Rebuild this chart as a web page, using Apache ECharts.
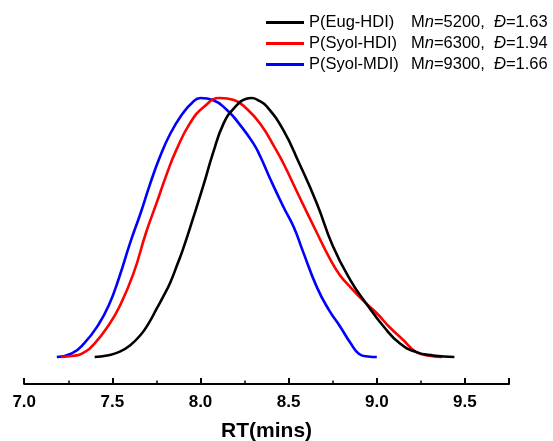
<!DOCTYPE html>
<html>
<head>
<meta charset="utf-8">
<script src="https://cdn.jsdelivr.net/npm/echarts@6/dist/echarts.min.js"></script>
<style>
html,body{margin:0;padding:0;background:#fff;}
#c{width:553px;height:441px;}
</style>
</head>
<body>
<div id="c"></div>
<script>
// Series names and legend annotations
var seriesNames = ['P(Eug-HDI)', 'P(Syol-HDI)', 'P(Syol-MDI)'];
var mnValues = ['5200', '6300', '9300'];
var dispersity = ['1.63', '1.94', '1.66'];
var seriesColors = ['#000000', '#ff0000', '#0000ff'];

// Retention time (mins) and normalized intensity
var eugX = [7.40, 7.47, 7.54, 7.60, 7.66, 7.71, 7.75, 7.79, 7.83, 7.87, 7.90, 7.96, 8.02, 8.07, 8.13, 8.19, 8.26, 8.29, 8.33, 8.375, 8.47, 8.56, 8.66, 8.75, 8.85, 8.94, 9.04, 9.13, 9.22, 9.32, 9.44];
var eugY = [0, 0.006, 0.02, 0.045, 0.085, 0.135, 0.185, 0.235, 0.29, 0.36, 0.415, 0.54, 0.67, 0.785, 0.90, 0.96, 0.997, 1.0, 0.99, 0.968, 0.876, 0.748, 0.593, 0.43, 0.297, 0.207, 0.117, 0.053, 0.02, 0.006, 0];

var syolHX = [7.21, 7.28, 7.33, 7.40, 7.48, 7.54, 7.62, 7.69, 7.75, 7.81, 7.86, 7.94, 8.02, 8.11, 8.19, 8.26, 8.34, 8.42, 8.47, 8.56, 8.66, 8.73, 8.79, 8.85, 8.92, 9.00, 9.07, 9.15, 9.22, 9.30, 9.37];
var syolHY = [0, 0.005, 0.014, 0.053, 0.124, 0.194, 0.323, 0.478, 0.593, 0.709, 0.795, 0.902, 0.966, 1.0, 0.992, 0.96, 0.90, 0.81, 0.748, 0.62, 0.48, 0.385, 0.317, 0.27, 0.22, 0.169, 0.117, 0.066, 0.021, 0.005, 0];

var syolMX = [7.185, 7.27, 7.34, 7.42, 7.48, 7.54, 7.60, 7.66, 7.71, 7.77, 7.83, 7.90, 7.95, 8.00, 8.07, 8.15, 8.22, 8.30, 8.34, 8.39, 8.47, 8.53, 8.58, 8.66, 8.73, 8.79, 8.85, 8.90, 8.95, 9.00];
var syolMY = [0, 0.014, 0.053, 0.124, 0.20, 0.31, 0.439, 0.555, 0.66, 0.773, 0.864, 0.941, 0.98, 1.0, 0.992, 0.954, 0.90, 0.825, 0.773, 0.696, 0.58, 0.50, 0.41, 0.27, 0.18, 0.12, 0.055, 0.012, 0.002, 0];

var xTickMin = 7.0, xTickMax = 9.75, xTickStep = 0.5;
var xAxisTitle = 'RT(mins)';

function pairs(xs, ys) { return xs.map(function (x, i) { return [x, ys[i]]; }); }
var allX = [eugX, syolHX, syolMX];
var allY = [eugY, syolHY, syolMY];

var chart = echarts.init(document.getElementById('c'), null, {renderer: 'canvas'});
var font = 'Liberation Sans, Arial, sans-serif';

chart.setOption({
  animation: false,
  backgroundColor: '#ffffff',
  grid: {left: 24.2, right: 44, top: 98, bottom: 57, containLabel: false, outerBoundsMode: 'none'},
  legend: {
    orient: 'vertical',
    left: 266,
    top: 14,
    padding: 0,
    itemWidth: 38,
    itemHeight: 3,
    itemGap: 4,
    icon: 'rect',
    selectedMode: false,
    data: seriesNames,
    formatter: function (name) {
      var i = seriesNames.indexOf(name);
      return '{a|' + name + '}{b|M}{i|n}{b|=' + mnValues[i] + ',  }{i|Đ}{b|=' + dispersity[i] + '}';
    },
    textStyle: {
      color: '#000',
      fontFamily: font,
      fontSize: 16.5,
      rich: {
        a: {width: 102, fontSize: 16.5, fontFamily: font, color: '#000', lineHeight: 19},
        b: {fontSize: 16.5, fontFamily: font, color: '#000', lineHeight: 19},
        i: {fontSize: 16.5, fontFamily: font, fontStyle: 'italic', color: '#000', lineHeight: 19}
      }
    }
  },
  xAxis: {
    type: 'value',
    min: xTickMin,
    max: xTickMax,
    interval: xTickStep,
    name: xAxisTitle,
    nameLocation: 'middle',
    nameGap: 37,
    nameTextStyle: {fontFamily: font, fontSize: 21, fontWeight: 'bold', color: '#000'},
    axisLine: {show: true, onZero: false, lineStyle: {color: '#000', width: 2}},
    axisTick: {show: true, inside: true, length: 6, lineStyle: {color: '#000', width: 2}},
    minorTick: {show: true, splitNumber: 2, length: 3.5, lineStyle: {color: '#000', width: 1.5}},
    splitLine: {show: false},
    axisLabel: {
      margin: 10,
      fontFamily: font,
      fontSize: 17,
      fontWeight: 'bold',
      color: '#000',
      formatter: function (v) { return Math.abs(v - 9.75) < 1e-6 ? '' : v.toFixed(1); }
    }
  },
  yAxis: {type: 'value', min: -0.104, max: 1, show: false},
  series: seriesNames.map(function (n, i) {
    return {
      name: n,
      type: 'line',
      data: pairs(allX[i], allY[i]),
      smooth: 0.5,
      showSymbol: false,
      symbol: 'none',
      clip: false,
      lineStyle: {color: seriesColors[i], width: 2.6},
      itemStyle: {color: seriesColors[i]},
      z: 3 - i
    };
  })
});
</script>
</body>
</html>
